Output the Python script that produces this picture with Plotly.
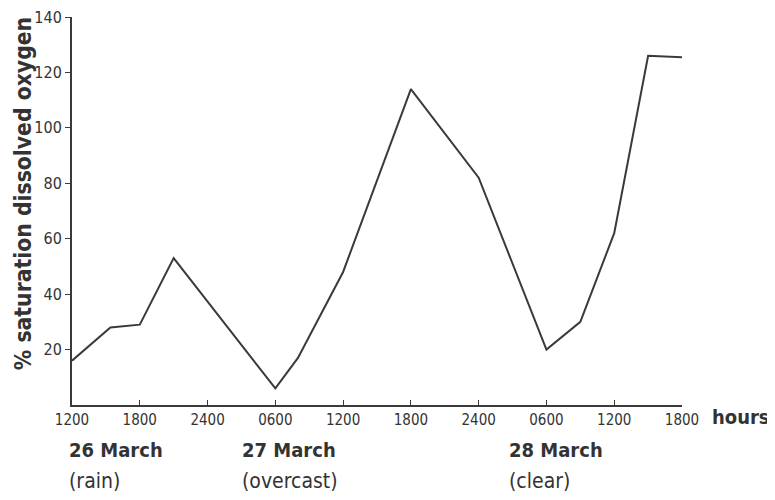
import plotly.graph_objects as go

# hours after 1200 on 26 March
hours = [0, 3.4, 6, 9, 18, 20, 24, 30, 36, 42, 45, 48, 51, 54]
oxygen_pct = [16, 28, 29, 53, 6, 17, 48, 114, 82, 20, 30, 62, 126, 125.5]

tick_hours = [0, 6, 12, 18, 24, 30, 36, 42, 48, 54]
tick_labels = ["1200", "1800", "2400", "0600", "1200", "1800", "2400", "0600", "1200", "1800"]
y_ticks = [20, 40, 60, 80, 100, 120, 140]

day_labels = ["26 March", "27 March", "28 March"]
day_weather = ["(rain)", "(overcast)", "(clear)"]
day_start_hours = [-0.45, 14.85, 38.5]

FONT = "DejaVu Sans Condensed, Liberation Sans Narrow, sans-serif"
INK = "#333333"

fig = go.Figure()
fig.add_trace(go.Scatter(x=hours, y=oxygen_pct, mode="lines",
                         line=dict(color="#3a3a3a", width=2), cliponaxis=False,
                         showlegend=False))

# page body has an 8px margin, so the figure is offset by 8px
fig.update_layout(
    width=767, height=492,
    margin=dict(l=64, r=93, t=9, b=95, autoexpand=False),
    paper_bgcolor="white", plot_bgcolor="white",
    font=dict(family=FONT, color=INK, size=16),
    xaxis=dict(range=[0, 54], tickvals=tick_hours, ticktext=tick_labels,
               showgrid=False, zeroline=False, showline=True, linecolor="#3a3a3a",
               linewidth=2, ticks="inside", ticklen=5, tickcolor="#3a3a3a",
               ticklabeloverflow="allow", automargin=False,
               tickfont=dict(size=15, family=FONT, color=INK)),
    yaxis=dict(range=[0, 140], tickvals=y_ticks, showgrid=False, zeroline=False,
               showline=True, linecolor="#3a3a3a", linewidth=2, ticks="outside",
               ticklen=5, tickcolor="#3a3a3a", ticklabeloverflow="allow",
               automargin=False,
               tickfont=dict(size=16, family=FONT, color=INK)),
)

annos = []
for h, lab, w in zip(day_start_hours, day_labels, day_weather):
    xp = h / 54
    annos.append(dict(x=xp, y=-0.115, xref="paper", yref="paper", text="<b>%s</b>" % lab,
                      showarrow=False, xanchor="left", yanchor="middle",
                      font=dict(size=20, family=FONT, color=INK)))
    annos.append(dict(x=xp, y=-0.195, xref="paper", yref="paper", text=w,
                      showarrow=False, xanchor="left", yanchor="middle",
                      font=dict(size=21, family=FONT, color=INK)))
annos.append(dict(x=1.046, y=-0.03, xref="paper", yref="paper", text="<b>hours</b>",
                  showarrow=False, xanchor="left", yanchor="middle",
                  font=dict(size=20, family=FONT, color=INK)))
annos.append(dict(x=-0.08, y=0.544, xref="paper", yref="paper",
                  text="<b>% saturation dissolved oxygen</b>", textangle=-90,
                  showarrow=False, xanchor="center", yanchor="middle",
                  font=dict(size=22.7, family=FONT, color=INK)))
fig.update_layout(annotations=annos)

fig.write_html("out.html")
